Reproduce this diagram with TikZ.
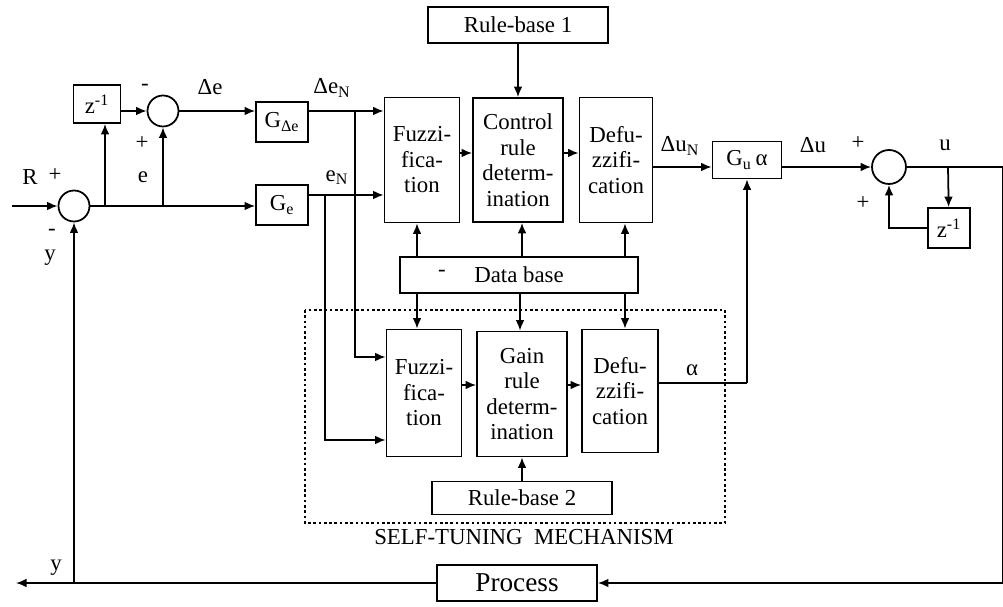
\documentclass[tikz,border=0pt]{standalone}
\usepackage{fontspec}
\setmainfont{Liberation Serif}
\usepackage{tikz}
\usetikzlibrary{arrows.meta,calc}
\tikzset{
  blk/.style={draw, line width=1pt, inner sep=0pt, align=center, font=\fontsize{13}{14.5}\selectfont},
  sumc/.style={draw, circle, line width=1pt, inner sep=0pt, minimum size=0.62cm},
  ln/.style={line width=1pt},
  arr/.style={-{Latex[length=6pt,width=5pt]}, line width=1pt},
  lab/.style={font=\fontsize{13}{14.5}\selectfont, inner sep=0pt},
  tune/.style={line width=0.8pt, dash pattern=on 1.5pt off 1.5pt}
}
\begin{document}
\begin{tikzpicture}[x=0.02cm, y=-0.02cm]
  \useasboundingbox (0,0) rectangle (1003,607);

  % left part: error and change of error
  \node[sumc] (sA) at (74,206) {};
  \node[sumc] (sB) at (163,111) {};
  \node[blk, minimum width=0.94cm, minimum height=0.76cm] (zA) at (97,104) {z\textsuperscript{-1}};
  \node[blk, minimum width=1.04cm, minimum height=0.8cm] (gde) at (282,122) {G\textsubscript{Δe}};
  \node[blk, minimum width=1.04cm, minimum height=0.8cm] (ge) at (282,205) {G\textsubscript{e}};

  % fuzzy controller
  \node[blk, minimum width=3.6cm, minimum height=0.72cm] (rb1) at (518,25) {Rule-base 1};
  \node[blk, minimum width=1.5cm, minimum height=2.5cm] (fz1) at (422,160) {Fuzzi-\\fica-\\tion};
  \node[blk, minimum width=1.8cm, minimum height=2.48cm] (crd) at (518,160) {Control\\rule\\determ-\\ination};
  \node[blk, minimum width=1.46cm, minimum height=2.5cm] (dfz1) at (616,160) {Defu-\\zzifi-\\cation};
  \node[blk, minimum width=4.76cm, minimum height=0.72cm] (db) at (519,275) {Data base};
  \node[lab] (dbm) at (442,273) {-};

  % self-tuning part
  \draw[tune] (305,310) rectangle (725,523);
  \node[blk, minimum width=1.5cm, minimum height=2.54cm] (fz2) at (424,393) {Fuzzi-\\fica-\\tion};
  \node[blk, minimum width=1.8cm, minimum height=2.5cm] (grd) at (522,394) {Gain\\rule\\determ-\\ination};
  \node[blk, minimum width=1.52cm, minimum height=2.46cm] (dfz2) at (620,391) {Defu-\\zzifi-\\cation};
  \node[blk, minimum width=3.6cm, minimum height=0.66cm] (rb2) at (522,498) {Rule-base 2};
  \node[lab] (stm) at (524,537) {SELF-TUNING\ \ MECHANISM};

  % output part
  \node[blk, minimum width=1.38cm, minimum height=0.74cm] (gua) at (747,160) {G\textsubscript{u}\,α};
  \node[sumc, minimum size=0.68cm] (sC) at (889,167) {};
  \node[blk, minimum width=0.84cm, minimum height=0.8cm] (zB) at (949,228) {z\textsuperscript{-1}};
  \node[blk, font=\fontsize{15.5}{17}\selectfont, minimum width=3.2cm, minimum height=0.72cm] (proc) at (517,583) {Process};

  % junctions and free ends
  \coordinate (in) at (12,206);
  \coordinate (jz) at (105,206);
  \coordinate (je) at (163,206);
  \coordinate (dN) at (355,111);
  \coordinate (eN) at (325,195);
  \coordinate (ja) at (747,383);
  \coordinate (ju) at (948,167);
  \coordinate (rc1) at (1003,167);
  \coordinate (rc2) at (1003,583);
  \coordinate (jy) at (74,583);
  \coordinate (out) at (16,583);

  % connectors
  \draw[arr] (in) -- (sA);
  \draw[arr] (sA) -- (ge.west |- sA);
  \draw[arr] (jz) -- (jz |- zA.south);
  \draw[arr] (zA.east |- sB) -- (sB);
  \draw[arr] (je) -- (sB);
  \draw[arr] (sB) -- (gde.west |- sB);
  \draw[arr] (gde.east |- sB) -- (fz1.west |- sB);
  \draw[arr] (ge.east |- eN) -- (fz1.west |- eN);
  \draw[arr] (dN) |- (fz2.west |- 0,357);
  \draw[arr] (eN) |- (fz2.west |- 0,440);
  \draw[arr] (rb1) -- (crd);
  \draw[arr] (fz1.east |- 0,153) -- (crd.west |- 0,153);
  \draw[arr] (crd.east |- 0,153) -- (dfz1.west |- 0,153);
  \foreach \x/\b in {417/fz1,522/crd,625/dfz1}
    \draw[arr] (db.north -| \x,0) -- (\b.south -| \x,0);
  \foreach \x/\b in {417/fz2,520/grd,625/dfz2}
    \draw[arr] (db.south -| \x,0) -- (\b.north -| \x,0);
  \draw[arr] (fz2.east |- 0,385) -- (grd.west |- 0,385);
  \draw[arr] (grd.east |- 0,385) -- (dfz2.west |- 0,385);
  \draw[arr] (rb2) -- (grd);
  \draw[ln] (dfz2.east |- ja) -- (ja);
  \draw[arr] (ja) -- (gua);
  \draw[arr] (dfz1.east |- sC) -- (gua.west |- sC);
  \draw[arr] (gua.east |- sC) -- (sC);
  \draw[arr] (sC) -- (rc1) -- (rc2) -- (proc);
  \draw[arr] (ju) -- (zB);
  \draw[arr] (zB.west) -| (sC);
  \draw[arr] (proc) -- (out);
  \draw[arr] (jy) -- (sA);

  % signal labels
  \node[lab] at (30,177) {R};
  \node[lab] at (55,175) {+};
  \node[lab] at (52,232) {-};
  \node[lab] at (50,258) {y};
  \node[lab] at (56,568) {y};
  \node[lab] at (145,87) {-};
  \node[lab] at (142,143) {+};
  \node[lab] at (143,177) {e};
  \node[lab] at (210,87) {Δe};
  \node[lab] at (332,88) {Δe\textsubscript{N}};
  \node[lab] at (337,178) {e\textsubscript{N}};
  \node[lab] at (680,146) {Δu\textsubscript{N}};
  \node[lab] at (813,145) {Δu};
  \node[lab] at (858,143) {+};
  \node[lab] at (863,203) {+};
  \node[lab] at (945,145) {u};
  \node[lab] at (692,370) {α};
\end{tikzpicture}
\end{document}
